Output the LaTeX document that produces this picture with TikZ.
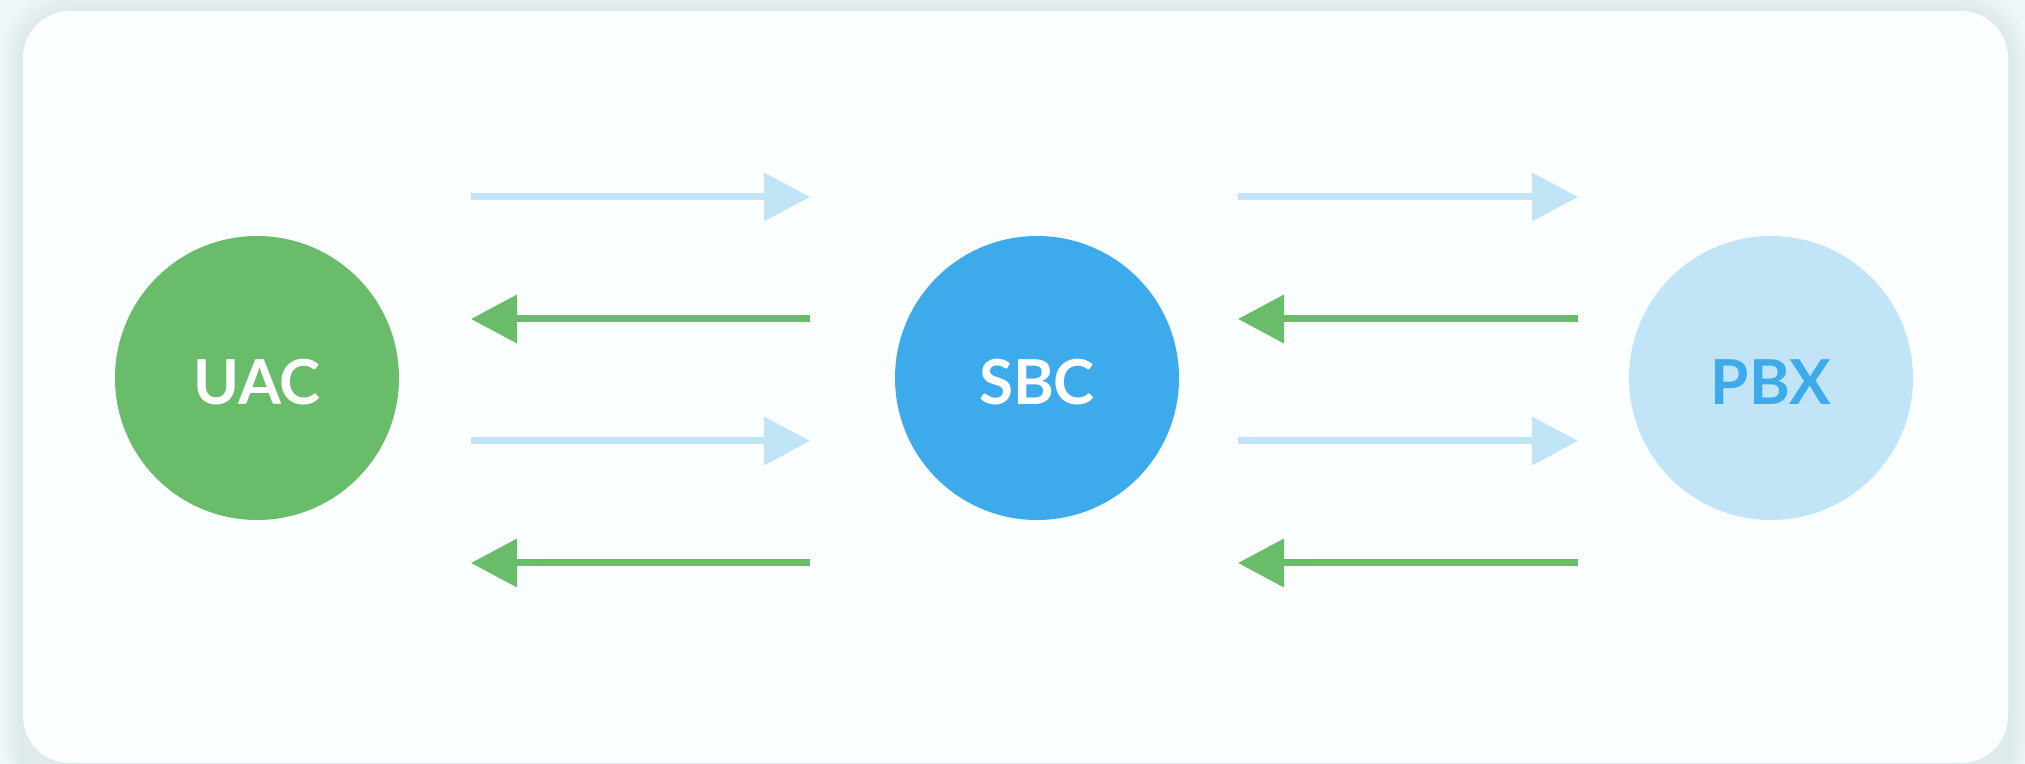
\documentclass[tikz,border=0pt]{standalone}
\usepackage{fontspec}
\setmainfont{Lato}[BoldFont={Lato Bold}]
\usetikzlibrary{arrows.meta}

\definecolor{pagebg}{HTML}{EFF7FA}
\definecolor{shade}{HTML}{DDE8EC}
\definecolor{cardbg}{HTML}{FBFEFE}
\definecolor{uacgreen}{HTML}{68BC6A}
\definecolor{sbcblue}{HTML}{3DAAEC}
\definecolor{paleblue}{HTML}{C2E4F7}

\tikzset{
  peer/.style={circle, minimum size=142pt, inner sep=0pt,
    text height=26.2pt, text depth=0pt,
    font=\fontsize{31}{31}\selectfont\bfseries},
  request/.style={draw=paleblue, line width=3.5pt, line cap=butt,
    -{Triangle[length=23pt,width=23.5pt]}},
  reply/.style={draw=uacgreen, line width=3.5pt, line cap=butt,
    -{Triangle[length=23pt,width=23.5pt]}},
}

\begin{document}
\begin{tikzpicture}[x=0.5pt, y=-0.5pt]
  % page and card with a soft drop shadow, built from solid bands
  \fill[pagebg] (0,0) rectangle (2025,764);
  \useasboundingbox (0,0) rectangle (2025,764);
  \foreach \g/\p in {22/20,17/40,12/60,8/75,4/90}{
    \fill[shade!\p!pagebg, rounded corners=\g*0.5pt+23.5pt]
      (23-\g,11-\g) rectangle (2008+\g,800);
  }
  \fill[cardbg, rounded corners=23.5pt] (23,11) rectangle (2008,763);

  % endpoints
  \node[peer, fill=uacgreen, text=white] (uac) at (257,378) {UAC};
  \node[peer, fill=sbcblue, text=white] (sbc) at (1037,378) {SBC};
  \node[peer, fill=paleblue, text=sbcblue] (pbx) at (1771,378) {PBX};

  % message lanes between UAC and SBC
  \coordinate (l1a) at (471,197); \coordinate (l1b) at (810,197);
  \coordinate (l2a) at (471,319); \coordinate (l2b) at (810,319);
  \coordinate (l3a) at (471,441); \coordinate (l3b) at (810,441);
  \coordinate (l4a) at (471,563); \coordinate (l4b) at (810,563);
  % message lanes between SBC and PBX
  \coordinate (r1a) at (1238,197); \coordinate (r1b) at (1578,197);
  \coordinate (r2a) at (1238,319); \coordinate (r2b) at (1578,319);
  \coordinate (r3a) at (1238,441); \coordinate (r3b) at (1578,441);
  \coordinate (r4a) at (1238,563); \coordinate (r4b) at (1578,563);

  \draw[request] (l1a) -- (l1b);
  \draw[reply]   (l2b) -- (l2a);
  \draw[request] (l3a) -- (l3b);
  \draw[reply]   (l4b) -- (l4a);

  \draw[request] (r1a) -- (r1b);
  \draw[reply]   (r2b) -- (r2a);
  \draw[request] (r3a) -- (r3b);
  \draw[reply]   (r4b) -- (r4a);
\end{tikzpicture}
\end{document}
